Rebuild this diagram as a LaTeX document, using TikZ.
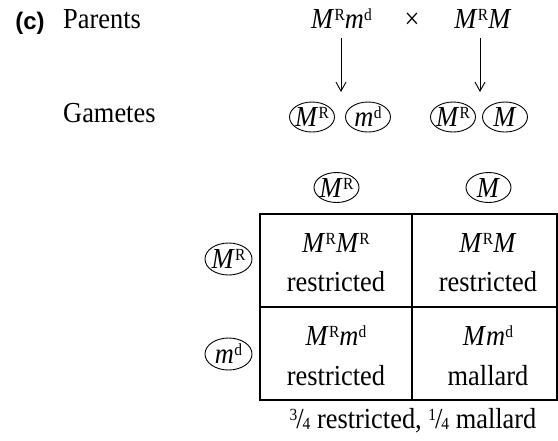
\documentclass[tikz,border=0pt]{standalone}
\usepackage{fontspec}
\setmainfont[FakeStretch=0.91]{Liberation Serif}
\newfontfamily\labfont{Liberation Sans}
\usetikzlibrary{shapes.geometric,arrows.meta}
\newcommand\gs[2]{\textit{#1}\kern0.3pt\raisebox{0.6ex}{\fontsize{17}{17}\selectfont #2}}
\newcommand\inell[1]{\makebox[0pt]{\smash{\raisebox{-0.33em}{#1}}}}
\newcommand\fr[2]{\raisebox{0.55ex}{\fontsize{17}{17}\selectfont #1}\kern-1pt/\kern-1pt\raisebox{-0.1ex}{\fontsize{17}{17}\selectfont #2}}
\begin{document}
\begin{tikzpicture}[x=1pt,y=-1pt,
  every node/.style={font=\fontsize{29}{34}\selectfont, inner sep=0pt},
  txt/.style={anchor=base},
  gam/.style={draw, ellipse, minimum width=45pt, minimum height=30pt, line width=0.9pt},
  cell/.style={draw, line width=1.1pt, minimum height=93pt},
  arr/.style={line width=0.9pt, -{Straight Barb[length=9pt,width=10pt]}}]
\useasboundingbox (0,0) rectangle (558,440);
% labels
\node[txt, font=\labfont\bfseries\fontsize{24}{28}\selectfont] (lab) at (30,29) {(c)};
\node[anchor=base west] (par) at (63,28) {Parents};
\node[anchor=base west] (gamlab) at (63,122) {Gametes};
% parents
\node[txt] (p1) at (341.5,28) {\gs{M}{R}\gs{m}{d}};
\node[txt] (cross) at (412,28) {×};
\node[txt] (p2) at (483,28) {\gs{M}{R}\textit{M}};
% arrows
\coordinate (e1) at (341,92);
\coordinate (e2) at (480,92);
\draw[arr] ([xshift=-0.5pt,yshift=-10pt]p1.south) -- (e1);
\draw[arr] ([xshift=-3pt,yshift=-10pt]p2.south) -- (e2);
% gametes
\node[gam] (g1) at (312,117) {\inell{\gs{M}{R}}};
\node[gam] (g2) at (368,117) {\inell{\gs{m}{d}}};
\node[gam] (g3) at (453,117) {\inell{\gs{M}{R}}};
\node[gam] (g4) at (505,117) {\inell{\textit{M}}};
% headers
\node[gam] (c1) at (336.5,187.5) {\inell{\gs{M}{R}}};
\node[gam] (c2) at (488.5,187.5) {\inell{\textit{M}}};
\node[gam, minimum width=47pt, minimum height=32pt] (r1) at (228.5,259) {\inell{\gs{M}{R}}};
\node[gam, minimum width=47pt, minimum height=32pt] (r2) at (228.5,354) {\inell{\gs{m}{d}}};
% grid cells
\node[cell, minimum width=152pt] (k11) at (336,260.5) {};
\node[cell, minimum width=145pt] (k12) at (484.5,260.5) {};
\node[cell, minimum width=152pt] (k21) at (336,353.5) {};
\node[cell, minimum width=145pt] (k22) at (484.5,353.5) {};
% cell texts
\node[txt] (t11a) at (336,252) {\gs{M}{R}\gs{M}{R}};
\node[txt] (t11b) at (336,291) {restricted};
\node[txt] (t12a) at (488,252) {\gs{M}{R}\textit{M}};
\node[txt] (t12b) at (488,291) {restricted};
\node[txt] (t21a) at (336,345) {\gs{M}{R}\gs{m}{d}};
\node[txt] (t21b) at (336,385) {restricted};
\node[txt] (t22a) at (488,345) {\textit{M}\gs{m}{d}};
\node[txt] (t22b) at (488,385) {mallard};
% summary
\node[txt] (sum) at (413,428) {\fr{3}{4} restricted, \fr{1}{4} mallard};
\end{tikzpicture}
\end{document}
